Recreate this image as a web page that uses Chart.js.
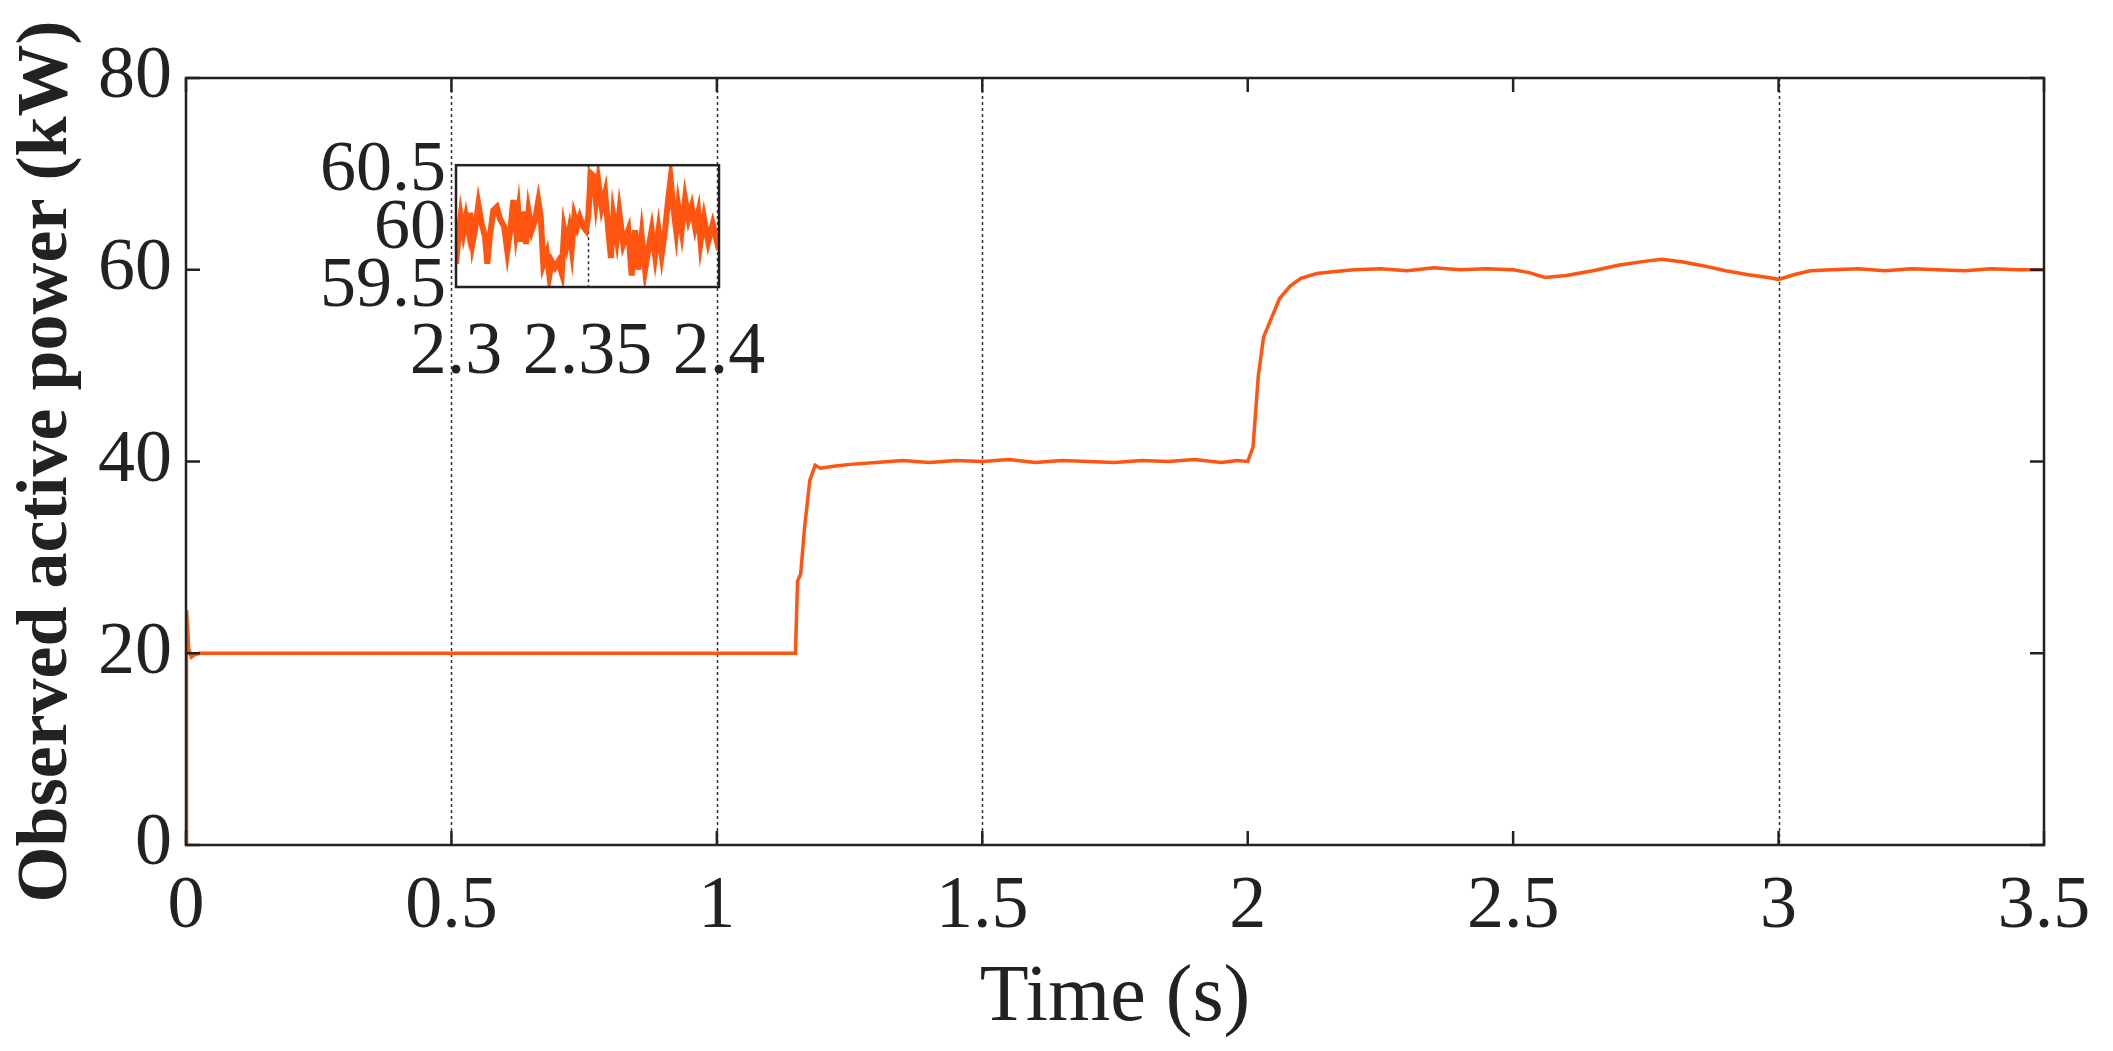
<!DOCTYPE html>
<html><head><meta charset="utf-8">
<script src="https://cdn.jsdelivr.net/npm/chart.js@4"></script>
<style>body{margin:0;background:#fff;overflow:hidden}#m{position:absolute;left:0;top:0}#i{position:absolute;left:280px;top:120px}</style>
</head><body>
<canvas id="m" width="2113" height="1051"></canvas>
<canvas id="i" width="520" height="280"></canvas>
<script>
const mainT=[0,0.001,0.005,0.01,0.015,0.025,0.5,1.0,1.148,1.152,1.158,1.165,1.175,1.185,1.195,1.22,1.25,1.3,1.35,1.4,1.45,1.5,1.55,1.6,1.65,1.7,1.75,1.8,1.85,1.9,1.95,1.98,2.0,2.01,2.02,2.03,2.045,2.06,2.08,2.1,2.13,2.16,2.2,2.25,2.3,2.35,2.4,2.45,2.5,2.53,2.56,2.6,2.65,2.7,2.75,2.78,2.82,2.86,2.9,2.94,2.98,3.0,3.03,3.06,3.1,3.15,3.2,3.25,3.3,3.35,3.4,3.45,3.5];
const mainP=[0,24.5,20.5,19.6,19.8,20,20,20,20,27.5,28.3,33,38,39.6,39.3,39.5,39.7,39.9,40.1,39.9,40.1,40.0,40.2,39.9,40.1,40.0,39.9,40.1,40.0,40.2,39.9,40.1,40.0,41.5,49,53,55,57,58.3,59.1,59.6,59.8,60.0,60.1,59.9,60.2,60.0,60.1,60.0,59.7,59.2,59.4,59.9,60.5,60.9,61.1,60.8,60.4,59.9,59.5,59.2,59.0,59.5,59.9,60.0,60.1,59.9,60.1,60.0,59.9,60.1,60.0,60.0];
const insetT=[2.3000,2.3009,2.3018,2.3028,2.3038,2.3047,2.3053,2.3063,2.3072,2.3085,2.3098,2.3110,2.3119,2.3129,2.3142,2.3155,2.3167,2.3183,2.3195,2.3208,2.3218,2.3228,2.3237,2.3246,2.3256,2.3266,2.3276,2.3288,2.3300,2.3313,2.3322,2.3332,2.3345,2.3355,2.3364,2.3376,2.3389,2.3402,2.3411,2.3421,2.3431,2.3440,2.3450,2.3461,2.3471,2.3484,2.3494,2.3503,2.3512,2.3522,2.3532,2.3541,2.3554,2.3567,2.3579,2.3589,2.3598,2.3611,2.3621,2.3636,2.3655,2.3668,2.3681,2.3693,2.3706,2.3719,2.3731,2.3744,2.3757,2.3770,2.3782,2.3795,2.3807,2.3816,2.3826,2.3837,2.3845,2.3858,2.3871,2.3884,2.3896,2.3909,2.3921,2.3930,2.3943,2.3959,2.3976,2.3989,2.4000];
const insetP=[59.70,59.92,60.11,59.97,60.10,59.99,60.14,59.88,59.99,60.21,60.04,59.94,59.70,59.94,60.16,60.19,60.09,60.02,59.81,60.02,60.25,59.99,60.15,59.89,60.15,59.87,60.15,59.99,60.07,60.24,60.11,59.70,59.79,59.60,59.72,59.67,59.72,59.62,59.99,59.87,59.99,59.83,60.11,60.02,60.10,60.02,59.99,60.11,60.48,60.46,60.24,60.41,60.19,60.31,59.99,59.75,60.11,59.92,60.14,59.87,59.99,59.60,59.99,59.65,59.94,59.65,59.82,59.99,59.77,59.99,59.78,59.99,60.26,60.43,60.19,59.99,60.19,59.99,60.26,60.09,60.19,60.02,60.14,59.89,60.09,59.89,60.04,59.92,59.82];
const xTicks=[0,0.5,1,1.5,2,2.5,3,3.5];
const yTicks=[0,20,40,60,80];
const gridAt=[0.5,1,1.5,3];
const insetXTicks=[2.3,2.35,2.4];
const insetYTicks=[59.5,60,60.5];
const insetGridAt=[2.35];
const COLOR='#FF5510';
const F='"Liberation Serif", "Times New Roman", serif';
Chart.defaults.font.family=F;
Chart.defaults.color='#222';
const frame={id:'frame',
 beforeDatasetsDraw(c,a,o){const {ctx,chartArea:ca}=c;const xs=c.scales.x;ctx.save();ctx.strokeStyle='#333';ctx.lineWidth=1.5;ctx.setLineDash([3,3]);ctx.beginPath();
  (o.grid||[]).forEach(v=>{const x=Math.round(xs.getPixelForValue(v))+0.5;ctx.moveTo(x,ca.top);ctx.lineTo(x,ca.bottom);});ctx.stroke();ctx.restore();},
 afterDraw(c,a,o){const {ctx,chartArea:ca}=c;ctx.save();ctx.strokeStyle='#222';ctx.lineWidth=o.w||2.5;ctx.strokeRect(ca.left,ca.top,ca.right-ca.left,ca.bottom-ca.top);
 if(o.ticks){ctx.beginPath();const ys=c.scales.y,xs=c.scales.x;o.yt.forEach(v=>{const y=ys.getPixelForValue(v);ctx.moveTo(ca.left,y);ctx.lineTo(ca.left+14,y);ctx.moveTo(ca.right,y);ctx.lineTo(ca.right-14,y);});o.xt.forEach(v=>{const x=xs.getPixelForValue(v);ctx.moveTo(x,ca.bottom);ctx.lineTo(x,ca.bottom-14);ctx.moveTo(x,ca.top);ctx.lineTo(x,ca.top+14);});ctx.stroke();}
 ctx.restore();}};
new Chart(document.getElementById('m'),{type:'line',
 data:{datasets:[{data:mainT.map((t,i)=>({x:t,y:mainP[i]})),borderColor:COLOR,borderWidth:3.5,pointRadius:0,tension:0}]},
 options:{responsive:false,animation:false,devicePixelRatio:1,
  layout:{padding:{left:0,right:69,top:78,bottom:0}},
  plugins:{legend:{display:false},tooltip:{enabled:false},frame:{ticks:true,yt:yTicks,xt:xTicks,w:2.5,grid:gridAt}},
  scales:{
   x:{type:'linear',min:0,max:3.5,afterBuildTicks:s=>{s.ticks=xTicks.map(v=>({value:v}));},
    afterFit:s=>{s.height=206;},
    grid:{display:false},border:{display:false},
    ticks:{font:{size:74},padding:10,maxRotation:0,autoSkip:false,callback:v=>String(v)},
    title:{display:true,text:'Time (s)',font:{size:80},padding:{top:0}}},
   y:{min:0,max:80,afterBuildTicks:s=>{s.ticks=yTicks.map(v=>({value:v}));},
    afterFit:s=>{s.width=186;},
    grid:{display:false},border:{display:false},
    ticks:{font:{size:74},padding:6,autoSkip:false},
    title:{display:true,text:'Observed active power (kW)',font:{size:72,weight:'bold'},padding:{bottom:0}}}}},
 plugins:[frame]});
new Chart(document.getElementById('i'),{type:'line',
 data:{datasets:[{data:insetT.map((t,i)=>({x:t,y:insetP[i]})),borderColor:COLOR,borderWidth:6,pointRadius:0,tension:0}]},
 options:{responsive:false,animation:false,devicePixelRatio:1,
  layout:{padding:{left:0,right:81,top:31,bottom:0}},
  plugins:{legend:{display:false},tooltip:{enabled:false},frame:{ticks:false,w:2.5,grid:insetGridAt}},
  scales:{
   x:{type:'linear',min:2.3,max:2.4,afterBuildTicks:s=>{s.ticks=insetXTicks.map(v=>({value:v}));},
    afterFit:s=>{s.height=113;},
    grid:{display:false},border:{display:false},
    ticks:{font:{size:74},padding:14,maxRotation:0,autoSkip:false,callback:v=>String(v)}},
   y:{min:59.5,max:60.55,afterBuildTicks:s=>{s.ticks=insetYTicks.map(v=>({value:v}));},
    afterFit:s=>{s.width=176;},
    grid:{display:false},border:{display:false},
    ticks:{font:{size:72},padding:2,autoSkip:false,callback:v=>String(v)}}}},
 plugins:[frame]});
</script></body></html>
